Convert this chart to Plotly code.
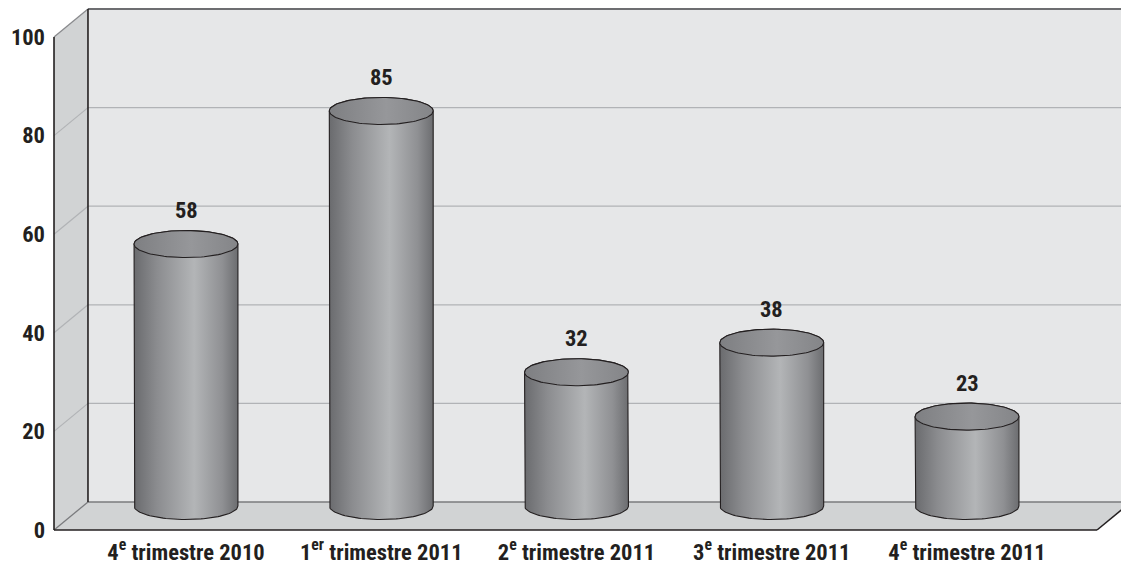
import numpy as np
import plotly.graph_objects as go

# Quarterly counts shown as 3-D cylinders
categories = ["4<sup>e</sup> trimestre 2010", "1<sup>er</sup> trimestre 2011",
              "2<sup>e</sup> trimestre 2011", "3<sup>e</sup> trimestre 2011",
              "4<sup>e</sup> trimestre 2011"]
values = [58, 85, 32, 38, 23]
y_ticks = [0, 20, 40, 60, 80, 100]

W, H = 1121, 565

# axis ranges (category index on x, value on y)
X_RANGE = [-0.9526, 4.7887]
Y_RANGE = [-7.10, 107.505]

# box geometry, in axis units
WALL_X = -0.676       # front edge of the left wall
DEPTH_X = 0.174       # depth offset of the back wall
DEPTH_Y = 5.68
FLOOR_RIGHT = 4.666   # front-right corner of the floor
Y_MAX = 100

# cylinder geometry, in axis units
RX = 0.266
RY = 2.74
BASE_Y = 4.87

INK = "#231f20"
BACK = "#e6e7e8"
SIDE = "#d1d3d4"
GRID = "#b1b3b6"
FONT = "Roboto Condensed, Open Sans Condensed, Liberation Sans Narrow, sans-serif"
FS = 22.5

fig = go.Figure()
shapes = []


def poly(xs, ys, fill, line=None, width=0, layer="below"):
    path = "M " + " L ".join(f"{x},{y}" for x, y in zip(xs, ys)) + " Z"
    return dict(type="path", path=path, xref="x", yref="y", fillcolor=fill,
                line=dict(color=line or fill, width=width), layer=layer)


def seg(x0, y0, x1, y1, color, width):
    return dict(type="line", x0=x0, y0=y0, x1=x1, y1=y1, xref="x", yref="y",
                line=dict(color=color, width=width), layer="below")


bx = WALL_X + DEPTH_X
far = X_RANGE[1] + 0.5
# back wall
shapes.append(poly([bx, far, far, bx], [DEPTH_Y, DEPTH_Y, Y_MAX + DEPTH_Y, Y_MAX + DEPTH_Y], BACK))
# left wall
shapes.append(poly([WALL_X, bx, bx, WALL_X], [0, DEPTH_Y, Y_MAX + DEPTH_Y, Y_MAX], SIDE))
# floor
shapes.append(poly([WALL_X, bx, FLOOR_RIGHT + DEPTH_X, FLOOR_RIGHT], [0, DEPTH_Y, DEPTH_Y, 0], SIDE))

# gridlines on back wall and left wall
for t in y_ticks[1:-1]:
    shapes.append(seg(bx, t + DEPTH_Y, far, t + DEPTH_Y, GRID, 1.2))
    shapes.append(seg(WALL_X, t, bx, t + DEPTH_Y, GRID, 1.2))

# edges of the box
shapes.append(seg(bx, Y_MAX + DEPTH_Y, far, Y_MAX + DEPTH_Y, "#6d6e71", 2.2))
shapes.append(seg(WALL_X, Y_MAX, bx, Y_MAX + DEPTH_Y, "#8a8b8e", 1.3))
shapes.append(seg(bx, DEPTH_Y, far, DEPTH_Y, "#7a7b7e", 1.5))
shapes.append(seg(WALL_X, 0, bx, DEPTH_Y, "#7a7b7e", 1.3))
shapes.append(seg(bx, DEPTH_Y, bx, Y_MAX + DEPTH_Y, INK, 1.6))
shapes.append(seg(WALL_X, 0, WALL_X, Y_MAX, INK, 1.6))
shapes.append(seg(WALL_X, 0, FLOOR_RIGHT, 0, INK, 1.6))
shapes.append(seg(FLOOR_RIGHT, 0, FLOOR_RIGHT + DEPTH_X, DEPTH_Y, INK, 1.6))

body_scale = [[0, "#6a6b6e"], [0.22, "#8b8c8f"], [0.58, "#b3b5b7"],
              [0.85, "#8f9093"], [1, "#6c6d70"]]
top_scale = [[0, "#7e7f82"], [0.55, "#96979a"], [1, "#848588"]]

front = np.linspace(np.pi, 2 * np.pi, 60)
back = np.linspace(0, np.pi, 60)
full = np.linspace(0, 2 * np.pi, 120)

for i, v in enumerate(values):
    # body: left side, front of the base, right side, back of the top
    bxs = np.concatenate([[i - RX], i + RX * np.cos(front), [i + RX], i + RX * np.cos(back)])
    bys = np.concatenate([[v], BASE_Y + RY * np.sin(front), [v], v + RY * np.sin(back)])
    fig.add_trace(go.Scatter(
        x=bxs, y=bys, mode="lines", fill="toself",
        fillgradient=dict(type="horizontal", colorscale=body_scale),
        line=dict(color=INK, width=1.1), hoverinfo="skip", showlegend=False))
    # top face
    fig.add_trace(go.Scatter(
        x=i + RX * np.cos(full), y=v + RY * np.sin(full), mode="lines", fill="toself",
        fillgradient=dict(type="horizontal", colorscale=top_scale),
        line=dict(color=INK, width=1.1), hoverinfo="skip", showlegend=False))
    fig.add_annotation(x=i, y=v, yshift=34, text=str(v), showarrow=False,
                       font=dict(family=FONT, size=FS, color=INK, weight="bold"))

fig.update_layout(
    width=W, height=H,
    margin=dict(l=0, r=0, t=0, b=0),
    paper_bgcolor="white", plot_bgcolor="white",
    shapes=shapes,
    showlegend=False,
    xaxis=dict(range=X_RANGE, domain=[0, 1], anchor="free", position=35 / H,
               tickmode="array", tickvals=list(range(len(categories))), ticktext=categories,
               showgrid=False, zeroline=False, showline=False, ticks="",
               tickangle=0, automargin=False, ticklabelstandoff=6,
               tickfont=dict(family=FONT, size=FS, color=INK, weight="bold")),
    yaxis=dict(range=Y_RANGE, domain=[0, 1], anchor="free", position=54 / W,
               tickmode="array", tickvals=y_ticks,
               showgrid=False, zeroline=False, showline=False, ticks="",
               automargin=False, ticklabelstandoff=9,
               tickfont=dict(family=FONT, size=FS, color=INK, weight="bold")),
)

fig.write_html("out.html")
